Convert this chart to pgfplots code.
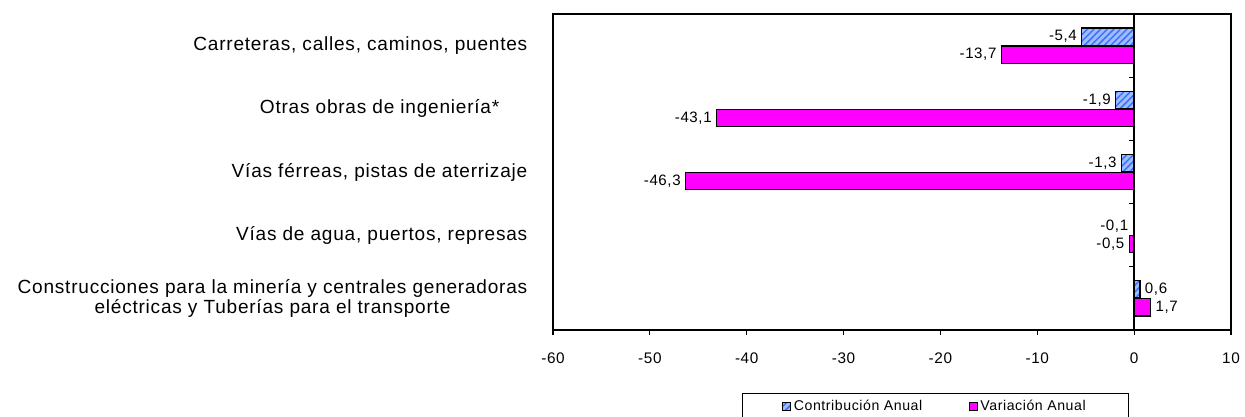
\documentclass[border=0pt]{standalone}
\usepackage{pgfplots}
\pgfplotsset{compat=1.18}
\usepackage{fontspec}
\setmainfont[LetterSpace=4]{Liberation Sans}
\usetikzlibrary{patterns.meta}
\definecolor{lblue}{HTML}{9DBDFF}
\definecolor{sblue}{HTML}{3D6FFF}
\definecolor{mag}{HTML}{FF00FF}
\begin{document}
\begin{tikzpicture}
\useasboundingbox (-414.75pt,-65.25pt) rectangle (519pt,247.5pt);
\begin{axis}[
  at={(0pt,0pt)}, anchor=south west,
  scale only axis, width=508.5pt, height=237pt,
  xmin=-60, xmax=10, ymin=-0.5, ymax=4.5,
  xtick={-60,-50,...,10},
  ytick={0,1,2,3,4},
  yticklabels={{Construcciones para la minería y centrales generadoras\\eléctricas y Tuberías para el transporte},
               {Vías de agua, puertos, represas},
               {Vías férreas, pistas de aterrizaje},
               {Otras obras de ingeniería*\rule{21pt}{0pt}},
               {Carreteras, calles, caminos, puentes}},
  xtick pos=bottom, ytick pos=left,
  tick align=outside,
  major tick length=3.75pt,
  y tick style={draw=none},
  x tick style={line width=0.9pt, black},
  axis line style={line width=1.2pt},
  /pgf/number format/assume math mode=true,
  xticklabel style={font=\fontsize{11.5}{13}\selectfont, yshift=-10pt},
  yticklabel style={font=\fontsize{14.3}{15.5}\selectfont, align=center, xshift=-12pt},
  xbar, bar width=13pt,
  point meta=x,
  nodes near coords={\pgfmathprintnumber[fixed,fixed zerofill,precision=1,use comma,assume math mode=true]{\pgfplotspointmeta}},
  nodes near coords align={horizontal},
  every node near coord/.append style={font=\fontsize{11.3}{13}\selectfont, black},
  legend columns=2,
  legend style={at={(0.564,-0.1994)}, anchor=north, draw=black, line width=0.8pt,
    font=\fontsize{10.6}{12}\selectfont, inner xsep=30pt, inner ysep=3pt,
    /tikz/every even column/.append style={column sep=33pt}},
  legend image code/.code={\draw[#1, line width=0.6pt] (0pt,-3pt) rectangle (6pt,3pt);},
]
\addplot[draw=black, line width=0.9pt, fill=lblue,
  postaction={pattern={Lines[angle=45,distance=3.5pt,line width=1.1pt]}, pattern color=sblue},
  bar shift=6.75pt] coordinates {(0.6,0) (-0.1,1) (-1.3,2) (-1.9,3) (-5.4,4)};
\addplot[draw=black, line width=0.9pt, fill=mag, bar shift=-6.75pt]
  coordinates {(1.7,0) (-0.5,1) (-46.3,2) (-43.1,3) (-13.7,4)};
\legend{Contribución Anual, Variación Anual}
\draw[line width=1.2pt] (axis cs:0,-0.5) -- (axis cs:0,4.5);
\pgfplotsinvokeforeach{0.5,1.5,2.5,3.5}{\draw[line width=0.9pt] (axis cs:0,#1) -- ++(-3.75pt,0pt);}
\end{axis}
\end{tikzpicture}
\end{document}
